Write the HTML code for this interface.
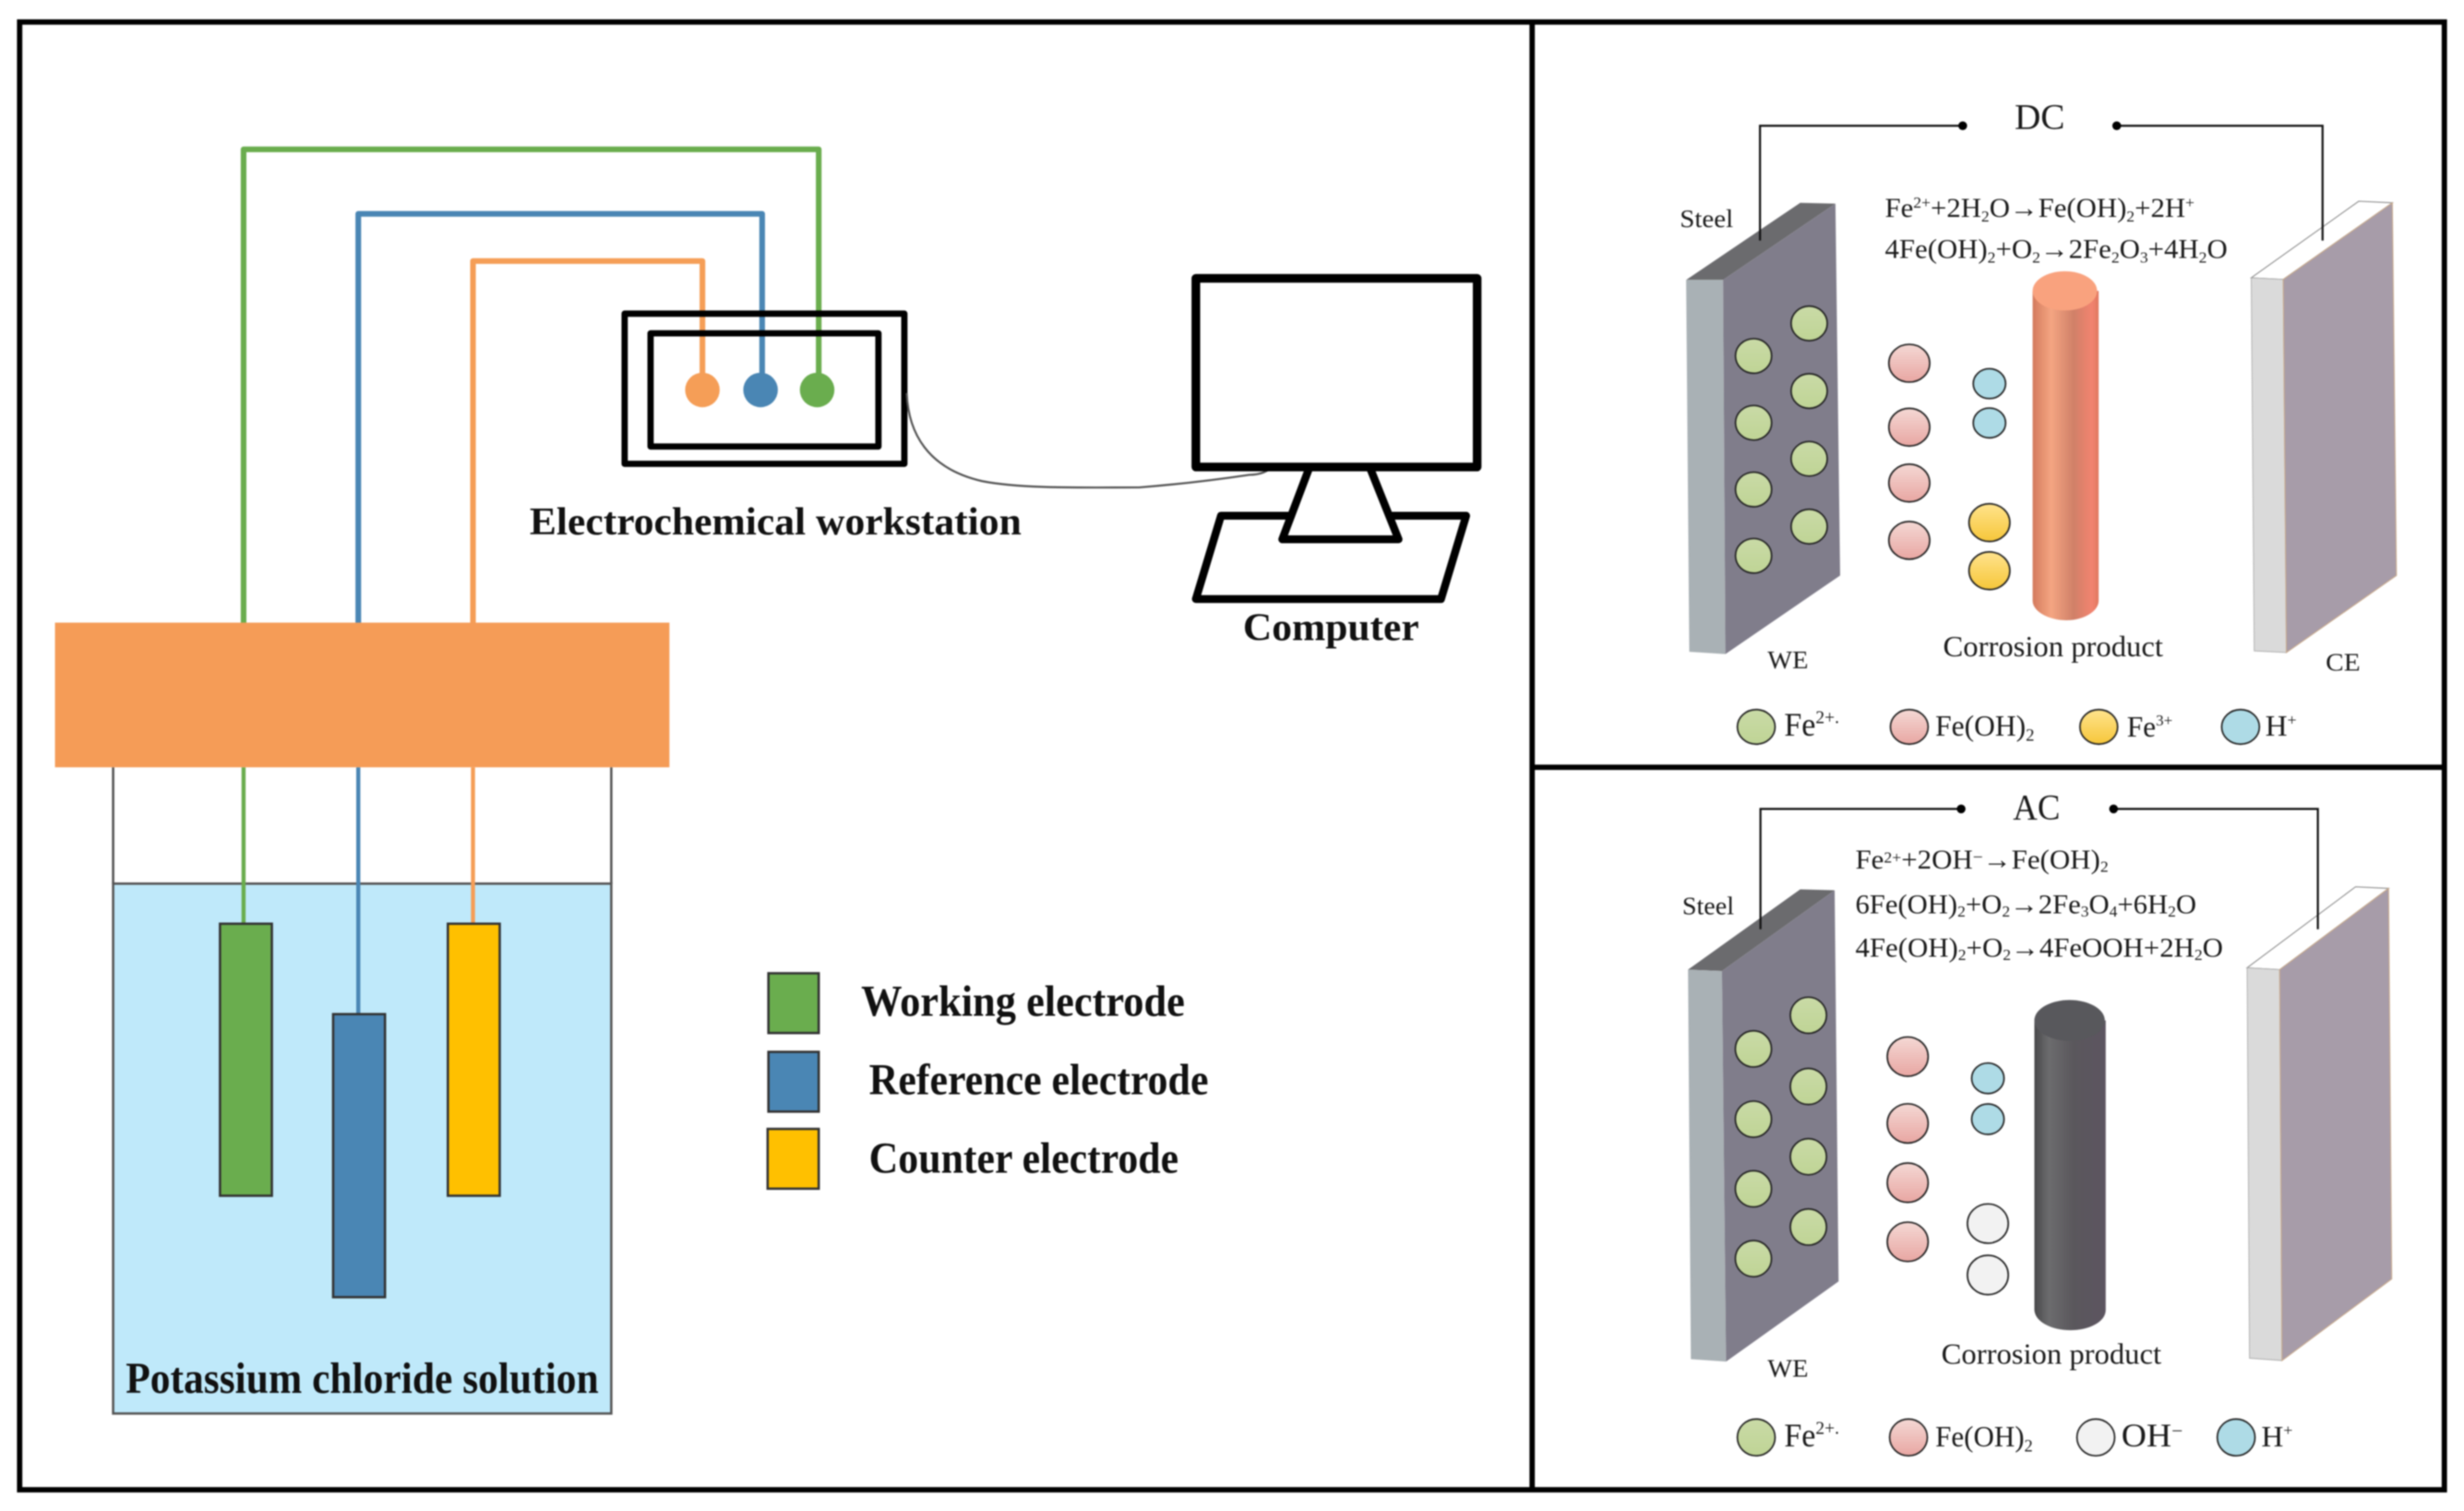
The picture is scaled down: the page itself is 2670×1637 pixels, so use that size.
<!DOCTYPE html>
<html><head><meta charset="utf-8"><title>Electrochemical setup</title>
<style>
html,body{margin:0;padding:0;background:#fff;width:2670px;height:1637px;overflow:hidden}
svg{display:block;width:2670px;height:1637px;filter:blur(0.7px)}
text{font-family:"Liberation Serif",serif;fill:#1a1a1a}
.b{font-weight:bold;fill:#111;font-size:25px}
.t{font-size:28px}
.e{font-size:17.5px}
.l{font-size:18.5px}
.s{font-size:16px}
.c circle,.c ellipse{stroke:#222;stroke-width:1}
</style></head><body>
<svg viewBox="0 0 1568 961" preserveAspectRatio="none" xmlns="http://www.w3.org/2000/svg">
<defs>
<linearGradient id="pk" x1="0" y1="0" x2="0" y2="1"><stop offset="0" stop-color="#F4D8D4"/><stop offset="1" stop-color="#E8A6A2"/></linearGradient>
<linearGradient id="yl" x1="0" y1="0" x2="0" y2="1"><stop offset="0" stop-color="#FFE38C"/><stop offset="1" stop-color="#F6C63A"/></linearGradient>
<linearGradient id="gr" x1="0" y1="0" x2="0" y2="1"><stop offset="0" stop-color="#C9DAA6"/><stop offset="1" stop-color="#BFD495"/></linearGradient>
<linearGradient id="cu" x1="0" y1="0" x2="1" y2="0"><stop offset="0" stop-color="#D47A5C"/><stop offset=".28" stop-color="#F4A582"/><stop offset=".62" stop-color="#D08068"/><stop offset=".9" stop-color="#F2836F"/><stop offset="1" stop-color="#E0785F"/></linearGradient>
<linearGradient id="dk" x1="0" y1="0" x2="1" y2="0"><stop offset="0" stop-color="#48484A"/><stop offset=".2" stop-color="#6C6C6E"/><stop offset=".55" stop-color="#5A575C"/><stop offset="1" stop-color="#5C5460"/></linearGradient>
</defs>

<!-- frame -->
<g fill="none" stroke="#000" stroke-width="3.4">
<rect x="12.5" y="14" width="1543" height="933.5"/>
<path d="M975 14V947.5M975 488H1555.5"/>
</g>

<!-- left panel wires -->
<g fill="none" stroke-width="3.6" stroke-linejoin="round">
<path d="M155 397V95H521V248" stroke="#6AAD4E"/>
<path d="M228 397V136H485V248" stroke="#4A86B4"/>
<path d="M301 397V166H447V248" stroke="#F59E57"/>
</g>
<!-- workstation -->
<g fill="none" stroke="#000" stroke-linejoin="round">
<rect x="397.5" y="199.5" width="178" height="95.5" stroke-width="4"/>
<rect x="414" y="212" width="145" height="72" stroke-width="4"/>
</g>
<circle cx="447" cy="248" r="11" fill="#F59E57"/>
<circle cx="484" cy="248" r="11" fill="#4A86B4"/>
<circle cx="520" cy="248" r="11" fill="#6AAD4E"/>
<path d="M577 250C578 275 590 298 625 306C650 311 690 310 725 310C750 308 775 305 795 302C802 302 806 300 810 297" fill="none" stroke="#555" stroke-width="1.3"/>
<text class="b" x="337" y="340" textLength="313" lengthAdjust="spacingAndGlyphs">Electrochemical workstation</text>

<!-- computer -->
<g fill="none" stroke="#000" stroke-linejoin="round">
<path d="M777 328H933L917 381H761Z" stroke-width="5" fill="#fff"/>
<path d="M833 298L816 343H890L872 298" stroke-width="5" fill="#fff"/>
<rect x="761" y="177" width="179" height="120" stroke-width="5.5" fill="#fff"/>
</g>
<text class="b" x="791" y="407" textLength="112" lengthAdjust="spacingAndGlyphs">Computer</text>

<!-- beaker -->
<rect x="72" y="562" width="317" height="337" fill="#BFE9FA" stroke="#555" stroke-width="1.5"/>
<path d="M72 488V562M389 488V562" stroke="#555" stroke-width="1.5" fill="none"/>
<path d="M155 488V587" stroke="#6AAD4E" stroke-width="2.6"/>
<path d="M228 488V645" stroke="#4A86B4" stroke-width="2.6"/>
<path d="M301 488V587" stroke="#F59E57" stroke-width="2.6"/>
<rect x="35" y="396" width="391" height="92" fill="#F59C57"/>
<g stroke="#333" stroke-width="1.5">
<rect x="140" y="587.5" width="33" height="173" fill="#6AAD4E"/>
<rect x="212" y="645" width="33" height="180" fill="#4A86B4"/>
<rect x="285" y="587.5" width="33" height="173" fill="#FFC000"/>
<rect x="489" y="619" width="32" height="38" fill="#6AAD4E"/>
<rect x="489" y="669" width="32" height="38" fill="#4A86B4"/>
<rect x="488.5" y="718" width="32.5" height="38" fill="#FFC000"/>
</g>
<text class="b t" x="80" y="886" textLength="301" lengthAdjust="spacingAndGlyphs">Potassium chloride solution</text>
<text class="b t" x="548" y="646" textLength="206" lengthAdjust="spacingAndGlyphs">Working electrode</text>
<text class="b t" x="553" y="696" textLength="216" lengthAdjust="spacingAndGlyphs">Reference electrode</text>
<text class="b t" x="553" y="746" textLength="197" lengthAdjust="spacingAndGlyphs">Counter electrode</text>

<!-- DC panel -->
<polygon points="1073,178 1096.5,178 1168,129.5 1145.6,129" fill="#6B6B6E"/>
<polygon points="1073,178 1096.5,178 1098,416 1075,414.5" fill="#A9B1B5"/>
<polygon points="1096.5,178 1168,129.5 1171,366 1098,416" fill="#807D8B"/>
<polygon points="1432.6,176.7 1453,177.7 1522.4,129 1501,128" fill="#fff" stroke="#888" stroke-width=".6"/>
<polygon points="1432.6,176.7 1453,177.7 1455,415 1434.5,414" fill="#DADADA" stroke="#aaa" stroke-width=".5"/>
<polygon points="1453,177.7 1522.4,129 1525,366 1455,415" fill="#A79CA9" stroke="#C9A98A" stroke-width=".6"/>
<g fill="none" stroke="#111" stroke-width="1.3">
<path d="M1120 153V80H1248.6"/><path d="M1346.7 80H1478V153"/>
</g>
<circle cx="1249" cy="80" r="2.8" fill="#000"/><circle cx="1347" cy="80" r="2.8" fill="#000"/>
<text x="1282" y="82" font-size="23" textLength="32" lengthAdjust="spacingAndGlyphs">DC</text>
<text class="e" x="1199.5" y="138" textLength="197" lengthAdjust="spacingAndGlyphs">Fe<tspan font-size="10" dy="-6">2+</tspan><tspan dy="6">+2H</tspan><tspan font-size="10" dy="3">2</tspan><tspan dy="-3">O→Fe(OH)</tspan><tspan font-size="10" dy="3">2</tspan><tspan dy="-3">+2H</tspan><tspan font-size="10" dy="-6">+</tspan></text>
<text class="e" x="1199.5" y="164" textLength="218" lengthAdjust="spacingAndGlyphs">4Fe(OH)<tspan font-size="10" dy="3">2</tspan><tspan dy="-3">+O</tspan><tspan font-size="10" dy="3">2</tspan><tspan dy="-3">→2Fe</tspan><tspan font-size="10" dy="3">2</tspan><tspan dy="-3">O</tspan><tspan font-size="10" dy="3">3</tspan><tspan dy="-3">+4H</tspan><tspan font-size="10" dy="3">2</tspan><tspan dy="-3">O</tspan></text>
<text class="s" x="1069" y="144.5" textLength="34" lengthAdjust="spacingAndGlyphs">Steel</text>
<g class="c">
<g fill="url(#gr)">
<ellipse cx="1115.9" cy="226.4" rx="11.5" ry="11"/><ellipse cx="1115.9" cy="268.9" rx="11.5" ry="11"/><ellipse cx="1115.9" cy="311.3" rx="11.5" ry="11"/><ellipse cx="1115.9" cy="353.5" rx="11.5" ry="11"/>
<ellipse cx="1151.3" cy="205.7" rx="11.5" ry="11"/><ellipse cx="1151.3" cy="248.7" rx="11.5" ry="11"/><ellipse cx="1151.3" cy="291.8" rx="11.5" ry="11"/><ellipse cx="1151.3" cy="334.9" rx="11.5" ry="11"/>
</g>
<g fill="url(#pk)">
<ellipse cx="1215" cy="231" rx="13" ry="12"/><ellipse cx="1215" cy="271.7" rx="13" ry="12"/><ellipse cx="1215" cy="307.2" rx="13" ry="12"/><ellipse cx="1215" cy="343.7" rx="13" ry="12"/>
</g>
<g fill="#AEDBE6"><ellipse cx="1266" cy="244" rx="10.3" ry="9.5"/><ellipse cx="1266" cy="269" rx="10.3" ry="9.5"/></g>
<g fill="url(#yl)"><ellipse cx="1266" cy="332.4" rx="13" ry="12"/><ellipse cx="1266" cy="363" rx="13" ry="12"/></g>
</g>
<path d="M1293.5 185V382C1293.5 389 1304 394.5 1315 394.5C1325.5 394.5 1335.5 389 1335.5 382V185Z" fill="url(#cu)"/>
<ellipse cx="1314" cy="185" rx="20.5" ry="12.5" fill="#F9A27E"/>
<text class="l" x="1236.5" y="417.5" textLength="140" lengthAdjust="spacingAndGlyphs">Corrosion product</text>
<text class="s" x="1124.8" y="425" textLength="26" lengthAdjust="spacingAndGlyphs">WE</text>
<text class="s" x="1480" y="426.5" textLength="22" lengthAdjust="spacingAndGlyphs">CE</text>
<g class="c">
<ellipse cx="1117.6" cy="462.3" rx="12" ry="11" fill="url(#gr)" stroke-width="1.3"/>
<ellipse cx="1215" cy="462.3" rx="12" ry="11" fill="url(#pk)"/>
<ellipse cx="1335.6" cy="462.3" rx="12" ry="11" fill="url(#yl)"/>
<ellipse cx="1425.8" cy="462.3" rx="12" ry="11" fill="#AEDBE6"/>
</g>
<text x="1135.4" y="468" font-size="21" textLength="35" lengthAdjust="spacingAndGlyphs">Fe<tspan font-size="12" dy="-8">2+.</tspan></text>
<text x="1231.6" y="468" font-size="18.5" textLength="63" lengthAdjust="spacingAndGlyphs">Fe(OH)<tspan font-size="11" dy="3">2</tspan></text>
<text x="1353.5" y="468.5" font-size="18.5" textLength="29" lengthAdjust="spacingAndGlyphs">Fe<tspan font-size="10" dy="-7">3+</tspan></text>
<text x="1441.5" y="468" font-size="18.5" textLength="20" lengthAdjust="spacingAndGlyphs">H<tspan font-size="10" dy="-7">+</tspan></text>

<!-- AC panel -->
<polygon points="1074.2,616.7 1095.8,617.6 1167.5,566.2 1145.6,565.6" fill="#6B6B6E"/>
<polygon points="1074.2,616.7 1095.8,617.6 1098.4,866 1076,864.4" fill="#A9B1B5"/>
<polygon points="1095.8,617.6 1167.5,566.2 1170,815 1098.4,866" fill="#807D8B"/>
<polygon points="1430,615.5 1450.7,616.7 1520,565 1499,564" fill="#fff" stroke="#888" stroke-width=".6"/>
<polygon points="1430,615.5 1450.7,616.7 1452.2,865.3 1431.5,863.8" fill="#DADADA" stroke="#aaa" stroke-width=".5"/>
<polygon points="1450.7,616.7 1520,565 1522,813.4 1452.2,865.3" fill="#A79CA9" stroke="#C9A98A" stroke-width=".6"/>
<g fill="none" stroke="#111" stroke-width="1.3">
<path d="M1120.3 591V514.5H1247.5"/><path d="M1344.8 514.5H1475V591"/>
</g>
<circle cx="1248" cy="514.5" r="2.8" fill="#000"/><circle cx="1345" cy="514.5" r="2.8" fill="#000"/>
<text x="1281" y="521" font-size="23" textLength="30" lengthAdjust="spacingAndGlyphs">AC</text>
<text class="e" x="1180.7" y="552.5" textLength="161" lengthAdjust="spacingAndGlyphs">Fe<tspan font-size="10" dy="-4">2+</tspan><tspan dy="4">+2OH</tspan><tspan font-size="11" dy="-4">−</tspan><tspan dy="4">→Fe(OH)</tspan><tspan font-size="10" dy="2">2</tspan></text>
<text class="e" x="1180.7" y="581" textLength="217" lengthAdjust="spacingAndGlyphs">6Fe(OH)<tspan font-size="10" dy="2">2</tspan><tspan dy="-2">+O</tspan><tspan font-size="10" dy="2">2</tspan><tspan dy="-2">→2Fe</tspan><tspan font-size="10" dy="2">3</tspan><tspan dy="-2">O</tspan><tspan font-size="10" dy="2">4</tspan><tspan dy="-2">+6H</tspan><tspan font-size="10" dy="2">2</tspan><tspan dy="-2">O</tspan></text>
<text class="e" x="1180.7" y="608.5" textLength="234" lengthAdjust="spacingAndGlyphs">4Fe(OH)<tspan font-size="10" dy="2">2</tspan><tspan dy="-2">+O</tspan><tspan font-size="10" dy="2">2</tspan><tspan dy="-2">→4FeOOH+2H</tspan><tspan font-size="10" dy="2">2</tspan><tspan dy="-2">O</tspan></text>
<text class="s" x="1070.5" y="581.5" textLength="33" lengthAdjust="spacingAndGlyphs">Steel</text>
<g class="c">
<g fill="url(#gr)">
<ellipse cx="1115.8" cy="667.1" rx="11.5" ry="11.5"/><ellipse cx="1115.8" cy="711.8" rx="11.5" ry="11.5"/><ellipse cx="1115.8" cy="756.1" rx="11.5" ry="11.5"/><ellipse cx="1115.8" cy="800.5" rx="11.5" ry="11.5"/>
<ellipse cx="1150.8" cy="645.7" rx="11.5" ry="11.5"/><ellipse cx="1150.8" cy="691" rx="11.5" ry="11.5"/><ellipse cx="1150.8" cy="735.7" rx="11.5" ry="11.5"/><ellipse cx="1150.8" cy="780.4" rx="11.5" ry="11.5"/>
</g>
<g fill="url(#pk)">
<ellipse cx="1214" cy="672" rx="13" ry="12.5"/><ellipse cx="1214" cy="714.5" rx="13" ry="12.5"/><ellipse cx="1214" cy="752.2" rx="13" ry="12.5"/><ellipse cx="1214" cy="789.8" rx="13" ry="12.5"/>
</g>
<g fill="#AEDBE6"><ellipse cx="1265" cy="685.8" rx="10.3" ry="9.7"/><ellipse cx="1265" cy="711.8" rx="10.3" ry="9.7"/></g>
<g fill="#F2F2F2"><ellipse cx="1265" cy="778.2" rx="13" ry="12.5"/><ellipse cx="1265" cy="810.9" rx="13" ry="12.5"/></g>
</g>
<path d="M1294.6 649V833C1295 841 1306 846 1317.5 846C1329 846 1340 841 1340 833V649Z" fill="url(#dk)"/>
<ellipse cx="1317" cy="649" rx="22.4" ry="13" fill="#58585C"/>
<text class="l" x="1235.4" y="867.5" textLength="140" lengthAdjust="spacingAndGlyphs">Corrosion product</text>
<text class="s" x="1124.8" y="875.5" textLength="26" lengthAdjust="spacingAndGlyphs">WE</text>
<g class="c">
<ellipse cx="1117.6" cy="914.2" rx="12" ry="11.7" fill="url(#gr)" stroke-width="1.3"/>
<ellipse cx="1214.5" cy="914.2" rx="12" ry="11.7" fill="url(#pk)"/>
<ellipse cx="1333.7" cy="914.2" rx="12" ry="11.7" fill="#F2F2F2"/>
<ellipse cx="1423" cy="914.2" rx="12" ry="11.7" fill="#AEDBE6"/>
</g>
<text x="1135.4" y="920" font-size="21" textLength="35" lengthAdjust="spacingAndGlyphs">Fe<tspan font-size="12" dy="-8">2+.</tspan></text>
<text x="1231.6" y="920" font-size="18.5" textLength="62" lengthAdjust="spacingAndGlyphs">Fe(OH)<tspan font-size="11" dy="3">2</tspan></text>
<text x="1350" y="920" font-size="21" textLength="39" lengthAdjust="spacingAndGlyphs">OH<tspan font-size="12" dy="-6">−</tspan></text>
<text x="1439" y="920" font-size="18.5" textLength="20" lengthAdjust="spacingAndGlyphs">H<tspan font-size="10" dy="-7">+</tspan></text>
</svg>
</body></html>
